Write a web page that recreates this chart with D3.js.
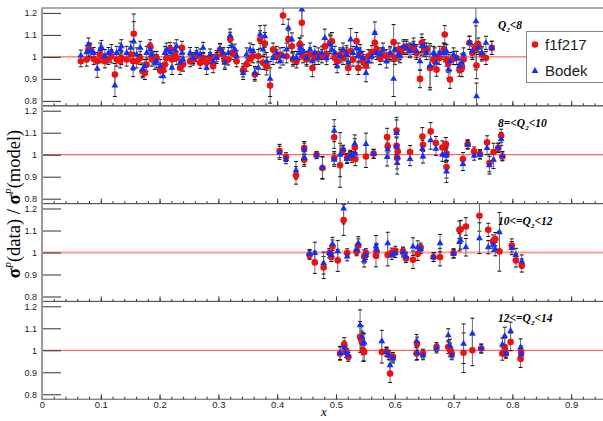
<!DOCTYPE html>
<html>
<head>
<meta charset="utf-8">
<title>ratio data / model</title>
<style>
  body { margin: 0; background: #fff; }
  svg text { font-family: "Liberation Sans", Arial, sans-serif; }
  .tick text { fill: #222; }
  .ya .tick text { font-size: 9px; }
  .xa .tick text { font-size: 9.5px; }
  .tick line { stroke: #333; }
  .plab { font-family: "Liberation Serif", "Times New Roman", serif; font-weight: bold; font-style: italic; font-size: 11.5px; }
</style>
</head>
<body>
<div id="chart"></div>
<script src="https://d3js.org/d3.v7.min.js"></script>
<script>

var width = 603, height = 421;

// each row: [x, f1f217 ratio, Bodek ratio, error]
var panelQ8 = [
  [0.066,0.980,1.006,.025],[0.076,0.988,1.021,.03],[0.079,1.033,1.056,.03],[0.082,1.033,1.026,.03],
  [0.088,0.991,1.018,.025],[0.094,0.980,0.947,.04],[0.099,1.011,1.033,.03],[0.101,1.003,1.045,.03],
  [0.107,0.980,1.003,.03],[0.113,0.991,1.018,.025],[0.118,1.003,1.026,.03],[0.124,0.920,0.870,.05],
  [0.127,0.988,1.018,.03],[0.133,0.980,1.033,.03],[0.135,0.995,1.048,.03],[0.144,0.988,1.018,.03],
  [0.151,1.011,1.041,.03],[0.155,0.980,0.950,.04],[0.156,1.105,1.070,.09],[0.161,0.980,1.011,.03],
  [0.167,0.995,1.041,.03],[0.171,0.935,0.942,.03],[0.175,0.927,0.958,.03],[0.178,0.965,1.018,.03],
  [0.184,1.048,1.033,.03],[0.187,0.988,1.011,.03],[0.192,0.995,0.973,.03],[0.195,0.995,0.980,.03],
  [0.201,0.938,0.958,.03],[0.206,0.939,0.912,.03],[0.209,0.965,1.018,.03],[0.212,0.995,1.033,.03],
  [0.218,1.036,1.021,.03],[0.221,0.988,0.950,.03],[0.226,1.011,1.033,.03],[0.229,0.995,1.048,.03],
  [0.235,0.950,0.973,.03],[0.238,1.041,1.018,.03],[0.240,0.965,0.988,.03],[0.252,0.980,1.018,.025],
  [0.257,0.988,0.995,.025],[0.263,1.003,1.018,.025],[0.269,0.973,1.011,.025],[0.274,0.995,1.041,.025],
  [0.280,0.973,0.950,.03],[0.286,0.995,1.011,.025],[0.291,0.958,0.980,.03],[0.297,1.003,0.995,.025],
  [0.303,1.033,1.036,.025],[0.308,1.011,1.018,.025],[0.311,0.980,0.973,.03],[0.317,0.988,1.018,.025],
  [0.320,1.082,1.097,.03],[0.323,1.018,1.048,.03],[0.328,1.011,1.033,.025],[0.331,0.980,1.003,.025],
  [0.342,0.939,0.927,.03],[0.348,0.965,1.011,.03],[0.354,0.991,1.033,.03],[0.359,1.003,1.026,.03],
  [0.362,0.920,0.927,.03],[0.368,1.003,0.950,.03],[0.371,1.079,1.102,.04],[0.376,0.973,1.033,.03],
  [0.379,1.061,1.094,.05],[0.382,0.958,0.980,.04],[0.388,0.870,0.900,.08],[0.393,1.033,0.995,.03],
  [0.399,1.003,1.018,.03],[0.405,1.011,0.980,.03],[0.410,1.188,1.003,.04],[0.416,1.003,1.033,.03],
  [0.419,1.079,1.132,.04],[0.425,1.048,1.079,.03],[0.427,0.988,0.995,.03],[0.433,0.980,0.995,.03],
  [0.438,1.056,1.018,.03],[0.439,1.056,1.041,.03],[0.442,1.155,1.215,.06],[0.444,1.003,1.026,.03],
  [0.450,0.988,0.995,.03],[0.456,1.011,1.033,.03],[0.460,0.950,0.980,.04],[0.464,0.995,1.018,.03],
  [0.470,1.011,0.995,.03],[0.476,1.003,1.018,.03],[0.481,1.048,1.086,.04],[0.484,1.011,0.995,.03],
  [0.490,1.064,1.056,.04],[0.493,1.071,1.033,.04],[0.498,0.995,1.018,.03],[0.502,0.980,0.958,.03],
  [0.507,1.011,1.003,.03],[0.512,0.995,1.033,.03],[0.518,1.021,1.011,.03],[0.521,0.950,0.973,.03],
  [0.525,1.026,1.079,.05],[0.529,0.988,1.018,.03],[0.535,1.071,1.041,.04],[0.538,0.950,1.003,.03],
  [0.541,1.011,1.026,.03],[0.546,0.980,0.995,.03],[0.551,0.960,0.927,.04],[0.555,1.003,0.980,.03],
  [0.561,1.021,1.003,.03],[0.566,1.064,1.109,.05],[0.569,1.033,1.018,.03],[0.575,0.995,1.011,.03],
  [0.580,1.011,1.033,.03],[0.586,1.003,0.980,.03],[0.592,1.011,1.018,.03],[0.598,1.067,0.900,.08],
  [0.600,0.995,1.033,.03],[0.606,1.033,1.011,.03],[0.609,1.018,1.003,.03],[0.615,1.041,1.048,.03],
  [0.620,1.048,1.041,.03],[0.626,1.033,1.026,.03],[0.632,1.041,1.056,.03],[0.637,1.018,1.026,.03],
  [0.643,0.900,0.980,.04],[0.646,1.064,1.048,.04],[0.650,1.033,1.048,.03],[0.654,1.033,1.018,.03],
  [0.660,0.950,0.960,.10],[0.666,0.988,1.018,.03],[0.668,0.980,1.011,.03],[0.671,0.942,0.973,.03],
  [0.676,0.995,1.018,.03],[0.683,1.033,1.018,.03],[0.685,1.102,1.018,.04],[0.688,0.988,1.026,.03],
  [0.691,0.970,0.942,.04],[0.694,0.897,0.980,.04],[0.700,0.995,1.011,.03],[0.705,0.995,0.995,.03],
  [0.710,0.942,0.958,.03],[0.714,0.950,0.973,.04],[0.717,0.988,1.011,.03],[0.727,1.064,1.064,.03],
  [0.732,1.018,1.026,.03],[0.738,1.041,1.162,.10],[0.739,0.961,0.821,.06],[0.742,1.056,1.041,.03],
  [0.748,1.011,1.018,.03],[0.755,0.995,1.064,.03],[0.765,1.041,1.041,.03]
];

var panelQ10 = [
  [0.404,1.017,1.009,.03],[0.415,0.989,0.979,.02],[0.432,0.906,0.929,.04],[0.446,1.030,1.023,.03],
  [0.446,0.977,0.985,.03],[0.467,1.000,0.997,.015],[0.477,0.939,0.942,.05],[0.497,1.079,1.109,.05],
  [0.497,0.985,0.977,.03],[0.507,0.952,1.000,.10],[0.512,1.020,1.023,.02],[0.519,0.985,0.980,.02],
  [0.524,1.000,0.995,.02],[0.527,0.985,0.995,.02],[0.532,1.033,1.050,.04],[0.533,0.980,1.005,.03],
  [0.551,0.992,1.048,.05],[0.564,1.005,1.003,.02],[0.587,1.080,0.989,.04],[0.588,1.038,1.023,.03],
  [0.603,1.110,1.098,.06],[0.603,1.041,1.036,.04],[0.604,0.985,0.962,.05],[0.605,1.015,0.988,.03],
  [0.626,1.012,0.980,.03],[0.647,1.083,1.026,.04],[0.648,1.045,0.992,.03],[0.661,1.106,1.065,.04],
  [0.670,1.053,1.027,.03],[0.681,1.033,1.000,.03],[0.687,1.048,0.995,.03],[0.688,1.005,1.000,.03],
  [0.688,0.944,0.924,.05],[0.716,0.980,0.958,.03],[0.724,1.048,1.045,.02],[0.735,1.015,0.995,.02],
  [0.745,1.003,1.000,.02],[0.757,1.056,1.030,.03],[0.761,0.962,0.952,.04],[0.768,1.012,0.977,.04],
  [0.776,1.030,1.033,.02],[0.781,1.086,1.071,.03],[0.783,0.992,0.995,.02]
];

var panelQ12 = [
  [0.455,0.989,0.994,.02],[0.464,0.955,0.997,.05],[0.479,0.932,0.952,.05],[0.489,0.997,0.997,.02],
  [0.492,0.979,0.989,.02],[0.494,1.027,1.039,.03],[0.503,0.964,1.005,.05],[0.513,1.148,1.200,.07],
  [0.519,0.997,0.982,.02],[0.535,1.005,1.012,.02],[0.538,1.032,1.042,.03],[0.548,0.982,0.964,.03],
  [0.551,0.997,0.989,.02],[0.568,0.985,1.027,.05],[0.569,1.005,1.012,.03],[0.588,0.989,1.042,.05],
  [0.595,1.000,0.989,.02],[0.601,1.008,0.997,.02],[0.614,1.005,1.000,.02],[0.619,0.974,0.982,.02],
  [0.631,0.967,1.027,.04],[0.639,0.994,1.023,.03],[0.644,1.023,1.015,.02],[0.666,0.979,0.979,.02],
  [0.677,0.979,1.042,.04],[0.700,0.997,0.994,.02],[0.710,1.103,1.047,.04],[0.712,1.106,1.055,.04],
  [0.721,1.118,1.024,.04],[0.744,1.167,1.065,.07],[0.759,1.103,1.024,.03],[0.767,1.050,1.035,.03],
  [0.771,1.061,1.015,.03],[0.778,1.005,1.092,.09],[0.799,1.032,1.020,.03],[0.806,0.964,0.989,.03],
  [0.816,0.941,0.959,.03]
];

var panelQ14 = [
  [0.507,0.985,0.988,.03],[0.514,1.027,1.012,.03],[0.517,1.000,0.988,.02],[0.521,0.970,0.977,.02],
  [0.541,1.061,1.114,.07],[0.544,1.038,1.061,.05],[0.546,1.000,1.030,.05],[0.548,0.992,1.035,.04],
  [0.578,0.992,1.041,.05],[0.586,0.995,0.992,.02],[0.590,0.977,0.977,.02],[0.592,0.894,0.932,.04],
  [0.597,0.970,0.962,.02],[0.637,0.985,1.042,.03],[0.638,1.030,0.988,.03],[0.648,0.985,0.977,.02],
  [0.671,1.015,1.008,.02],[0.691,1.015,1.068,.03],[0.694,1.003,1.020,.03],[0.697,0.985,0.977,.02],
  [0.717,0.989,1.030,.09],[0.732,1.000,1.076,.07],[0.747,1.008,1.008,.02],[0.783,0.985,1.026,.03],
  [0.787,1.015,1.065,.04],[0.789,0.985,0.985,.02],[0.797,1.038,1.088,.04],[0.814,0.962,1.012,.04],
  [0.815,0.990,0.982,.03]
];

var panels = [panelQ8, panelQ10, panelQ12, panelQ14];
var panelLabels = [["", "<8"], ["8=<", "<10"], ["10<=", "<12"], ["12<=", "<14"]];
var seriesNames = ["f1f217", "Bodek"];
var yTicks = [0.8, 0.9, 1, 1.1, 1.2];
var xTicks = [0, 0.1, 0.2, 0.3, 0.4, 0.5, 0.6, 0.7, 0.8, 0.9];

var RED = "#f01010", BLUE = "#1030ff";
var top0 = 8, panelH = 97.8;

var svg = d3.select("#chart").append("svg")
    .attr("width", width).attr("height", height);

var x = d3.scaleLinear().domain([0, 0.955]).range([42, 603.5]);
var xMinor = d3.range(0, 0.951, 0.02);

panels.forEach(function(data, i) {
  var pt = top0 + i * panelH;
  var y = d3.scaleLinear().domain([0.7777, 1.2223]).range([pt + panelH, pt]);
  var g = svg.append("g");

  g.append("clipPath").attr("id", "clip" + i)
    .append("rect").attr("x", 42).attr("y", pt).attr("width", 562).attr("height", panelH);

  // frame
  g.append("rect").attr("x", 42).attr("y", pt).attr("width", 570).attr("height", panelH)
    .attr("fill", "none").attr("stroke", "#555").attr("stroke-width", 1);

  // reference line at 1
  g.append("line").attr("x1", 42).attr("x2", 603).attr("y1", y(1)).attr("y2", y(1))
    .attr("stroke", i == 2 ? "#ff9c9c" : "#ff4040").attr("stroke-width", i == 2 ? 2 : 1);

  // y axis, long ticks inside
  var ya = g.append("g").attr("class", "ya").attr("transform", "translate(42,0)")
    .call(d3.axisLeft(y).tickValues(yTicks).tickSizeInner(-19).tickSizeOuter(0).tickPadding(5)
      .tickFormat(d3.format("")));
  ya.select(".domain").remove();
  ya.selectAll(".tick line").attr("stroke", "#444");

  // x axis ticks pointing up
  var xa = g.append("g").attr("class", "xa").attr("transform", "translate(0," + (pt + panelH) + ")")
    .call(d3.axisBottom(x).tickValues(xTicks).tickSizeInner(-5).tickSizeOuter(0).tickPadding(2)
      .tickFormat(i == 3 ? d3.format("") : ""));
  xa.select(".domain").remove();
  var xm = g.append("g").attr("transform", "translate(0," + (pt + panelH) + ")")
    .call(d3.axisBottom(x).tickValues(xMinor).tickSizeInner(-2.5).tickSizeOuter(0).tickFormat(""));
  xm.select(".domain").remove();

  var plot = g.append("g").attr("clip-path", "url(#clip" + i + ")");

  // error bars for both series
  [1, 2].forEach(function(k) {
    var eb = plot.selectAll(".eb" + k).data(data).enter().append("g");
    eb.append("line")
      .attr("x1", function(d) { return x(d[0]); }).attr("x2", function(d) { return x(d[0]); })
      .attr("y1", function(d) { return y(d[k] - d[3]); }).attr("y2", function(d) { return y(d[k] + d[3]); })
      .attr("stroke", "#6a6a6a").attr("stroke-width", 1);
    [-1, 1].forEach(function(s) {
      eb.append("line")
        .attr("x1", function(d) { return x(d[0]) - 2; }).attr("x2", function(d) { return x(d[0]) + 2; })
        .attr("y1", function(d) { return y(d[k] + s * d[3]); }).attr("y2", function(d) { return y(d[k] + s * d[3]); })
        .attr("stroke", "#111").attr("stroke-width", 1);
    });
  });

  plot.selectAll(".red").data(data).enter().append("circle")
    .attr("cx", function(d) { return x(d[0]); }).attr("cy", function(d) { return y(d[1]); })
    .attr("r", 3.3).attr("fill", RED);

  plot.selectAll(".blue").data(data).enter().append("path")
    .attr("d", d3.symbol(d3.symbolTriangle).size(20))
    .attr("transform", function(d) { return "translate(" + x(d[0]) + "," + y(d[2]) + ")"; })
    .attr("fill", BLUE);

  // panel label
  var lab = g.append("text").attr("class", "plab").attr("x", 498).attr("y", pt + 21);
  lab.append("tspan").text(panelLabels[i][0] + "Q");
  lab.append("tspan").attr("font-size", "7px").attr("dy", 3).text("2");
  lab.append("tspan").attr("dy", -3).text(panelLabels[i][1]);
});

// left axis bar
svg.append("line").attr("x1", 42).attr("x2", 42).attr("y1", top0).attr("y2", top0 + 4 * panelH)
  .attr("stroke", "#9a9a9a").attr("stroke-width", 2);

// legend
var leg = svg.append("g");
leg.append("rect").attr("x", 526.5).attr("y", 31.5).attr("width", 90).attr("height", 51)
  .attr("fill", "#fff").attr("stroke", "#888");
leg.append("circle").attr("cx", 535).attr("cy", 44.5).attr("r", 3.3).attr("fill", RED);
leg.append("path").attr("d", d3.symbol(d3.symbolTriangle).size(20))
  .attr("transform", "translate(535,71)").attr("fill", BLUE);
leg.selectAll(".lt").data(seriesNames).enter().append("text")
  .attr("x", 545).attr("y", function(d, j) { return 50 + j * 26; })
  .style("font-size", "15px").attr("fill", "#222").text(function(d) { return d; });

// axis titles
var yl = svg.append("text").attr("transform", "translate(20,204) rotate(-90)")
  .attr("text-anchor", "middle")
  .style("font-family", "'Liberation Serif', 'Times New Roman', serif").style("font-size", "18.5px");
yl.append("tspan").style("font-weight", "bold").text("σ");
yl.append("tspan").attr("dy", -7).style("font-size", "10px").style("font-style", "italic").text("P");
yl.append("tspan").attr("dy", 7).text("(data) / ");
yl.append("tspan").style("font-weight", "bold").text("σ");
yl.append("tspan").attr("dy", -7).style("font-size", "10px").style("font-style", "italic").text("P");
yl.append("tspan").attr("dy", 7).text("(model)");

svg.append("text").attr("x", 321).attr("y", 416)
  .style("font-family", "'Liberation Serif', 'Times New Roman', serif")
  .style("font-style", "italic").style("font-size", "13px").text("x");

</script>
</body>
</html>
